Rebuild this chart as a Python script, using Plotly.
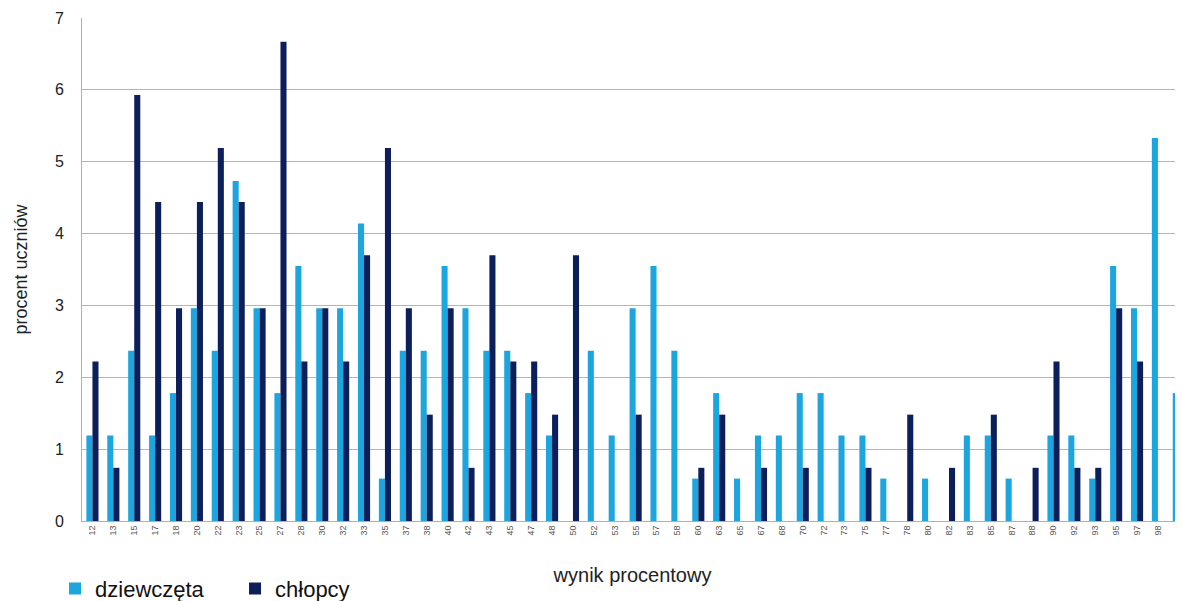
import plotly.graph_objects as go

categories = ["12", "13", "15", "17", "18", "20", "22", "23", "25", "27", "28", "30", "32", "33",
              "35", "37", "38", "40", "42", "43", "45", "47", "48", "50", "52", "53", "55", "57",
              "58", "60", "63", "65", "67", "68", "70", "72", "73", "75", "77", "78", "80", "82",
              "83", "85", "87", "88", "90", "92", "93", "95", "97", "98", "100"]

dziewczeta = [1.19, 1.19, 2.37, 1.19, 1.78, 2.96, 2.37, 4.73, 2.96, 1.78, 3.55, 2.96, 2.96, 4.14,
              0.59, 2.37, 2.37, 3.55, 2.96, 2.37, 2.37, 1.78, 1.19, 0, 2.37, 1.19, 2.96, 3.55,
              2.37, 0.59, 1.78, 0.59, 1.19, 1.19, 1.78, 1.78, 1.19, 1.19, 0.59, 0, 0.59, 0,
              1.19, 1.19, 0.59, 0, 1.19, 1.19, 0.59, 3.55, 2.96, 5.33, 1.78]

chlopcy = [2.22, 0.74, 5.93, 4.44, 2.96, 4.44, 5.19, 4.44, 2.96, 6.67, 2.22, 2.96, 2.22, 3.70,
           5.19, 2.96, 1.48, 2.96, 0.74, 3.70, 2.22, 2.22, 1.48, 3.70, 0, 0, 1.48, 0,
           0, 0.74, 1.48, 0, 0.74, 0, 0.74, 0, 0, 0.74, 0, 1.48, 0, 0.74,
           0, 1.48, 0, 0.74, 2.22, 0.74, 0.74, 2.96, 2.22, 0, 2.96]

y_ticks = [0, 1, 2, 3, 4, 5, 6, 7]

FONT = "Liberation Sans, Arial, sans-serif"

fig = go.Figure()
fig.add_trace(go.Bar(x=categories, y=dziewczeta, name="dziewczęta",
                     marker=dict(color="#1DA5DF", line=dict(width=0))))
fig.add_trace(go.Bar(x=categories, y=chlopcy, name="chłopcy",
                     marker=dict(color="#0C1F5A", line=dict(width=0))))

fig.update_layout(
    width=1175, height=593,
    margin=dict(l=74, r=0, t=10, b=80, autoexpand=False),
    paper_bgcolor="white", plot_bgcolor="white",
    font=dict(family=FONT, color="#222"),
    barmode="group", bargap=0.42, bargroupgap=0,
    showlegend=True,
    legend=dict(orientation="h", x=-0.0245, xanchor="left", y=-0.093, yanchor="top",
                font=dict(size=22, color="#111", family=FONT),
                entrywidth=135, entrywidthmode="pixels",
                itemwidth=30, bgcolor="rgba(0,0,0,0)", tracegroupgap=0),
    xaxis=dict(
        type="category", range=[-0.5, 52.2], automargin=False,
        tickangle=-90, tickfont=dict(size=9, color="#555"),
        ticklabeloverflow="allow",
        showgrid=False, showline=True, linecolor="#b0b0b0", linewidth=1,
        ticks="", ticklen=0,
        title=dict(text="wynik procentowy", font=dict(size=20, color="#222"), standoff=28),
    ),
    yaxis=dict(
        range=[0, 7], tickvals=y_ticks, tickfont=dict(size=16, color="#222"),
        automargin=False,
        showgrid=True, gridcolor="#b5b5b5", gridwidth=1,
        showline=True, linecolor="#b0b0b0", linewidth=1,
        zeroline=False, ticks="", ticklabelstandoff=14,
        title=dict(text="procent uczniów", font=dict(size=18, color="#222"), standoff=22),
    ),
)

fig.write_html("out.html")
